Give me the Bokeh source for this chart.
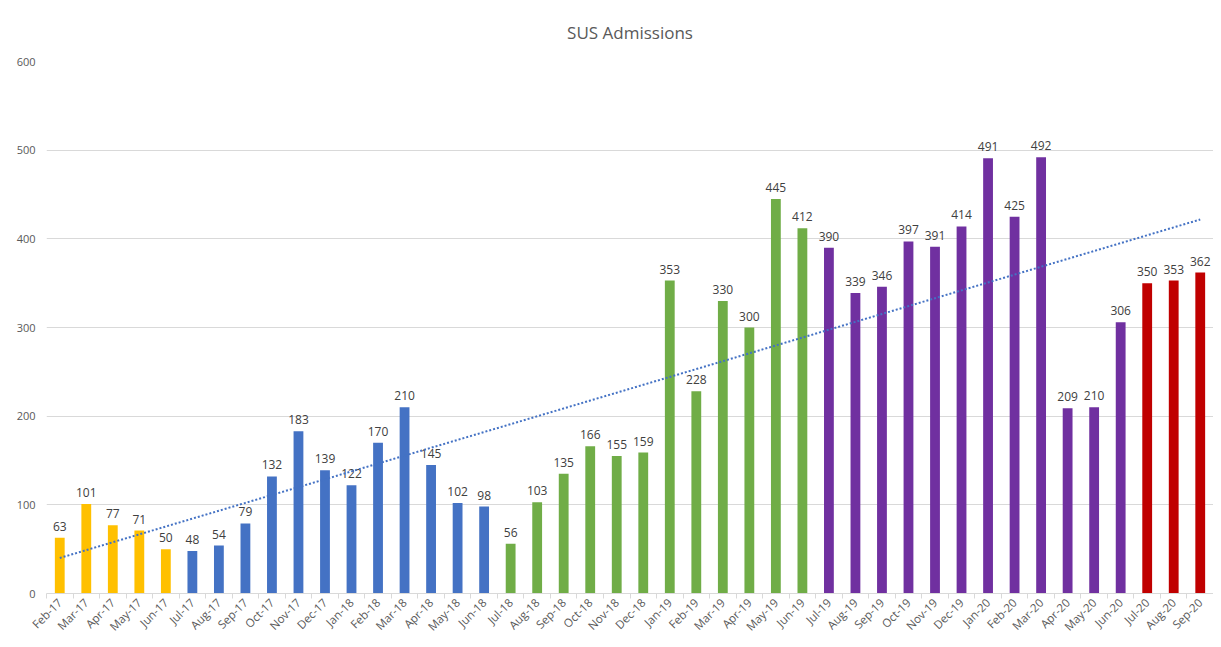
import numpy as np
from bokeh.plotting import figure
from bokeh.models import ColumnDataSource, FixedTicker, Range1d
from bokeh.core.properties import value
from bokeh.embed import file_html
from bokeh.resources import INLINE

months = ["Feb-17", "Mar-17", "Apr-17", "May-17", "Jun-17",
          "Jul-17", "Aug-17", "Sep-17", "Oct-17", "Nov-17", "Dec-17",
          "Jan-18", "Feb-18", "Mar-18", "Apr-18", "May-18", "Jun-18",
          "Jul-18", "Aug-18", "Sep-18", "Oct-18", "Nov-18", "Dec-18",
          "Jan-19", "Feb-19", "Mar-19", "Apr-19", "May-19", "Jun-19",
          "Jul-19", "Aug-19", "Sep-19", "Oct-19", "Nov-19", "Dec-19",
          "Jan-20", "Feb-20", "Mar-20", "Apr-20", "May-20", "Jun-20",
          "Jul-20", "Aug-20", "Sep-20"]
admissions = [63, 101, 77, 71, 50,
              48, 54, 79, 132, 183, 139,
              122, 170, 210, 145, 102, 98,
              56, 103, 135, 166, 155, 159,
              353, 228, 330, 300, 445, 412,
              390, 339, 346, 397, 391, 414,
              491, 425, 492, 209, 210, 306,
              350, 353, 362]
# financial year (Jul-Jun) colours
year_colors = {"2016/17": "#FFC000", "2017/18": "#4472C4", "2018/19": "#70AD47",
               "2019/20": "#7030A0", "2020/21": "#C00000"}
y_ticks = [0, 100, 200, 300, 400, 500, 600]

month_order = ["Jan", "Feb", "Mar", "Apr", "May", "Jun",
               "Jul", "Aug", "Sep", "Oct", "Nov", "Dec"]


def fin_year(m):
    mon, yy = m.split("-")
    y = 2000 + int(yy)
    start = y if month_order.index(mon) >= 6 else y - 1
    return f"{start}/{str(start + 1)[2:]}"


xs = list(range(len(months)))
colors = [year_colors[fin_year(m)] for m in months]
src = ColumnDataSource(dict(x=xs, v=admissions, c=colors,
                            lbl=[str(v) for v in admissions]))

p = figure(width=1213, height=641, output_backend="svg", toolbar_location=None,
           x_range=Range1d(-0.5, len(months) - 0.5), y_range=Range1d(0, 600),
           min_border_left=46, min_border_right=0, min_border_top=61,
           min_border_bottom=44)
p.title.text = "SUS Admissions"
p.title.align = "center"
p.title.text_font = "Open Sans"
p.title.text_font_size = "17px"
p.title.text_font_style = "normal"
p.title.text_color = "#595959"
p.title.standoff = 35
p.outline_line_color = None
p.background_fill_color = "white"
p.border_fill_color = "white"

p.vbar(x="x", top="v", width=0.37, fill_color="c", line_color=None, source=src)
p.text(x="x", y="v", text="lbl", source=src, text_align="center",
       text_baseline="bottom", y_offset=-7, text_font=value("Open Sans"),
       text_font_size="12px", text_color="#404040")

coef = np.polyfit(xs, admissions, 1)
trend = np.polyval(coef, xs)
p.line(xs, trend, line_color="#4472C4", line_width=2, line_dash="2 2")

# axes
p.xaxis.ticker = FixedTicker(ticks=xs, minor_ticks=[i - 0.5 for i in range(len(months) + 1)])
p.xaxis.major_label_overrides = {i: m for i, m in enumerate(months)}
p.xaxis.major_label_orientation = np.pi / 4
p.xaxis.major_tick_line_color = None
p.xaxis.major_tick_out = 0
p.xaxis.major_tick_in = 0
p.xaxis.minor_tick_line_color = "#D9D9D9"
p.xaxis.minor_tick_out = 5
p.xaxis.minor_tick_in = 0
p.xaxis.axis_line_color = "#D9D9D9"
p.xaxis.major_label_text_font = "Open Sans"
p.xaxis.major_label_text_font_size = "11.5px"
p.xaxis.major_label_text_color = "#595959"
p.xaxis.major_label_standoff = 2

p.yaxis.ticker = FixedTicker(ticks=y_ticks)
p.yaxis.axis_line_color = None
p.yaxis.major_tick_line_color = None
p.yaxis.major_tick_out = 0
p.yaxis.major_tick_in = 0
p.yaxis.minor_tick_line_color = None
p.yaxis.major_label_text_font = "Open Sans"
p.yaxis.major_label_text_font_size = "11px"
p.yaxis.major_label_text_color = "#595959"
p.yaxis.major_label_standoff = 11

p.xgrid.grid_line_color = None
p.ygrid.grid_line_color = "#D9D9D9"
p.ygrid.ticker = FixedTicker(ticks=y_ticks)

open("out.html", "w").write(file_html(p, INLINE))
